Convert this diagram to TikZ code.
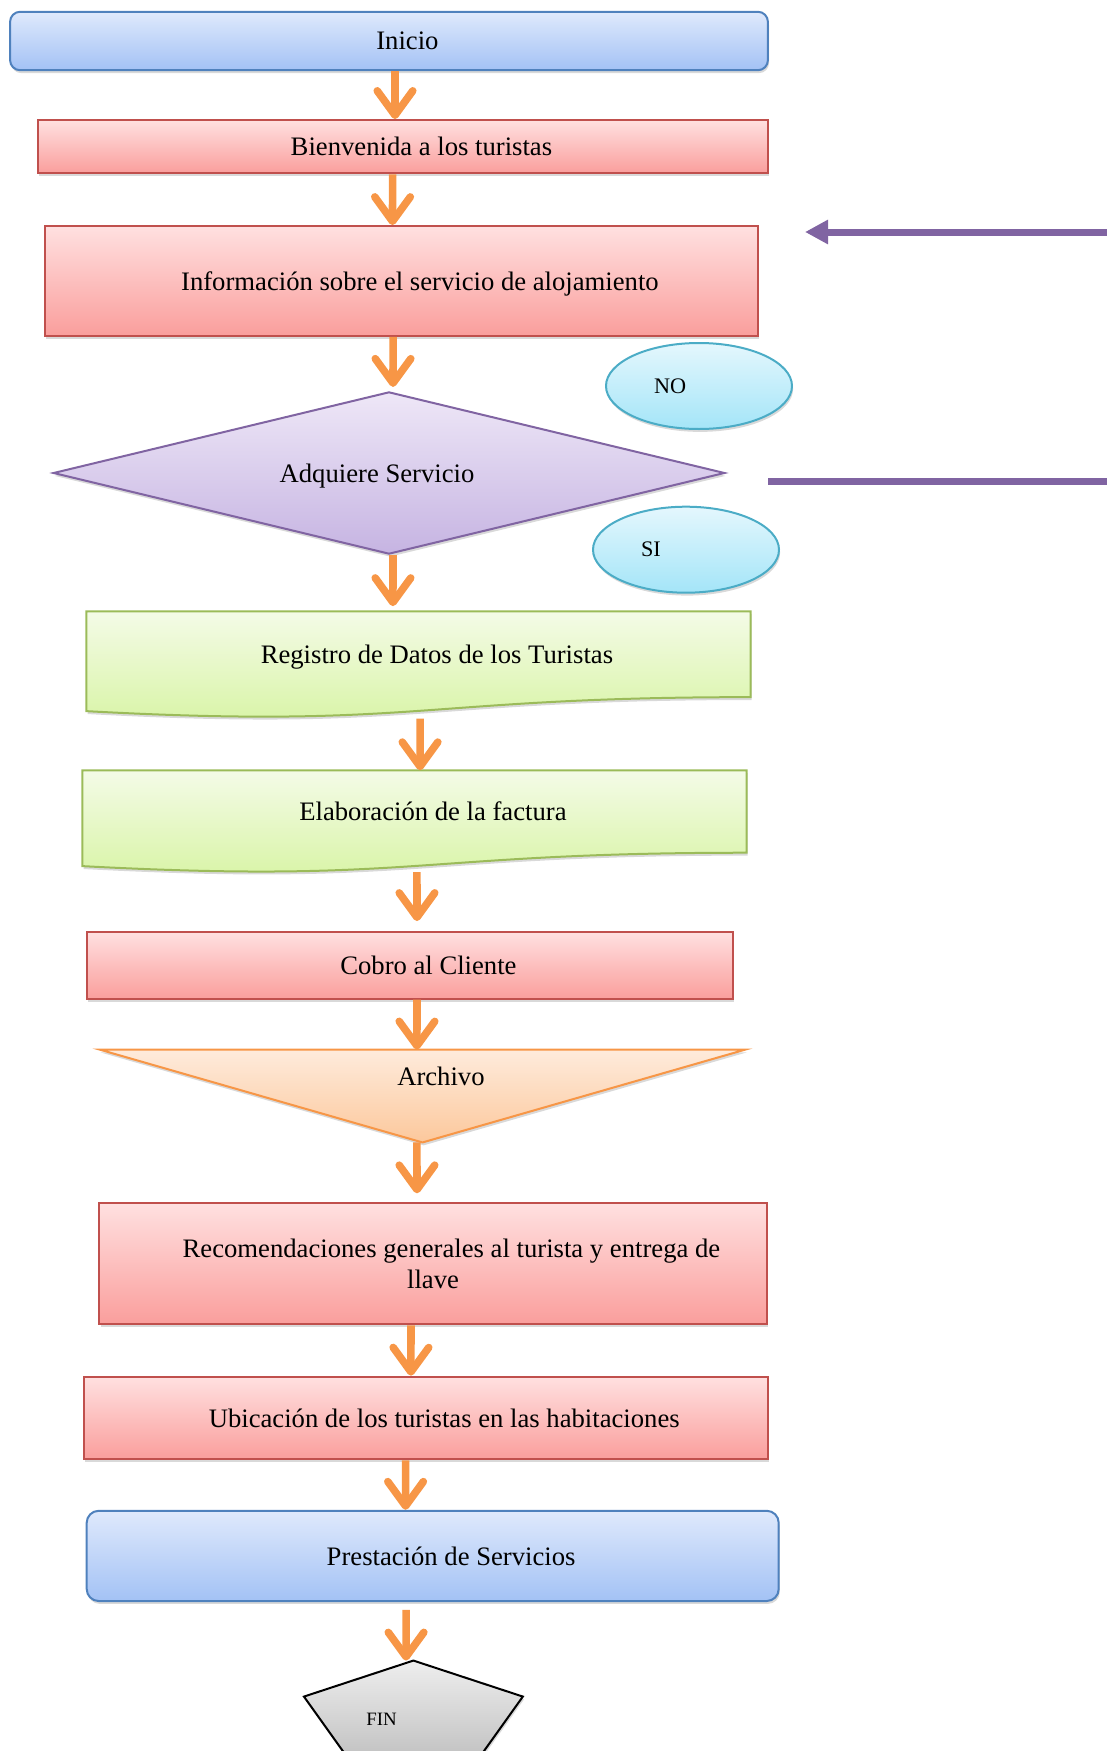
\documentclass[tikz,border=0pt]{standalone}
\usepackage{fontspec}
\setmainfont{Liberation Serif}
\usetikzlibrary{shapes.geometric, arrows.meta, calc, shadows, backgrounds}

\definecolor{azulborde}{HTML}{4F81BD}
\definecolor{azularriba}{HTML}{DFE9FC}
\definecolor{azulabajo}{HTML}{A3C2F5}
\definecolor{rojoborde}{HTML}{C0504D}
\definecolor{rojoarriba}{HTML}{FFE0E0}
\definecolor{rojoabajo}{HTML}{FA9E9C}
\definecolor{verdeborde}{HTML}{9BBB59}
\definecolor{verdearriba}{HTML}{F4FBE7}
\definecolor{verdeabajo}{HTML}{D7F4A3}
\definecolor{moradoborde}{HTML}{8064A2}
\definecolor{moradoarriba}{HTML}{EEE7F7}
\definecolor{moradoabajo}{HTML}{C6B4E2}
\definecolor{cianborde}{HTML}{4BACC6}
\definecolor{cianarriba}{HTML}{E4F7FD}
\definecolor{cianabajo}{HTML}{A4E5F8}
\definecolor{naranja}{HTML}{F79646}
\definecolor{naranjaarriba}{HTML}{FEEBDC}
\definecolor{naranjaabajo}{HTML}{FCC89C}
\definecolor{grisarriba}{HTML}{EEEEEE}
\definecolor{grisabajo}{HTML}{C3C3C3}

\begin{document}
\begin{tikzpicture}
   [x=0.45pt, y=-0.45pt,
    texto/.style={font=\fontsize{12}{14}\selectfont, inner sep=0pt, text depth=0pt},
    sangria/.style={execute at begin node={\hspace*{16.6pt}}},
    sombra/.style={drop shadow={shadow xshift=0.5pt, shadow yshift=-1.3pt, opacity=0.3}},
    inicio/.style={texto, sangria, sombra, rectangle, rounded corners=4.5pt, draw=azulborde, line width=0.9pt, top color=azularriba, bottom color=azulabajo},
    rojo/.style={texto, sombra, rectangle, draw=rojoborde, line width=0.9pt, top color=rojoarriba, bottom color=rojoabajo},
    proceso/.style={rojo, sangria},
    documento/.style={sombra, draw=verdeborde, line width=0.9pt, top color=verdearriba, bottom color=verdeabajo},
    decision/.style={texto, sombra, diamond, aspect=4, draw=moradoborde, line width=0.9pt, top color=moradoarriba, bottom color=moradoabajo},
    respuesta/.style={font=\fontsize{10}{12}\selectfont, sombra, ellipse, inner sep=0pt, minimum width=83.7pt, minimum height=38.7pt, draw=cianborde, line width=0.9pt, top color=cianarriba, bottom color=cianabajo},
    archivo/.style={sombra, draw=naranja, line width=0.9pt, top color=naranjaarriba, bottom color=naranjaabajo},
    finforma/.style={sombra, draw=black, line width=0.9pt, top color=grisarriba, bottom color=grisabajo},
    flecha/.style={color=naranja, line width=3.4pt, -{Straight Barb[length=11pt, width=16pt, round]}},
    lazo/.style={draw=moradoborde, line width=3.15pt, -{Triangle[length=10.4pt, width=10.4pt]}}]
   \useasboundingbox (0,0) rectangle (1106,1751);

   \node[inicio, minimum width=341pt, minimum height=26.3pt] (ini) at (389,41) {Inicio};
   \node[proceso, minimum width=328.4pt, minimum height=24pt] (bien) at (403,146.7) {Bienvenida a los turistas};
   \node[proceso, minimum width=321.1pt, minimum height=49.4pt] (info) at (401.5,281) {Información sobre el servicio de alojamiento};
   \node[respuesta] (no) at (699,386) {NO\hspace*{26pt}};
   \node[decision, minimum width=302.2pt, minimum height=73pt] (adq) at (389,473) {Adquiere Servicio\hspace*{10.8pt}};
   \node[respuesta] (si) at (686,549.7) {SI\hspace*{31.5pt}};
   \node[texto, sangria, minimum width=298.4pt, minimum height=38.25pt] (reg) at (418.5,654.2) {Registro de Datos de los Turistas};
   \node[texto, sangria, minimum width=298.4pt, minimum height=36.7pt] (elab) at (414.5,811.5) {Elaboración de la factura};
   \node[proceso, minimum width=290.6pt, minimum height=30pt] (cobro) at (410,965.4) {Cobro al Cliente};
   \node[inner sep=0pt, minimum width=290.25pt, minimum height=41.4pt,
         label={[texto, sangria, yshift=8.7pt]center:Archivo}] (arch) at (422.5,1096) {};
   \node[rojo, align=center, minimum width=300.2pt, minimum height=54.5pt] (recom) at (433,1263.8)
        {\hspace*{16.6pt}Recomendaciones generales al turista y entrega de\\llave};
   \node[proceso, minimum width=307.6pt, minimum height=37.2pt] (ubic) at (425.8,1418) {Ubicación de los turistas en las habitaciones};
   \node[inicio, rounded corners=5.4pt, minimum width=311.4pt, minimum height=40.6pt] (prest) at (432.7,1555.9) {Prestación de Servicios};
   \node[inner sep=0pt, minimum width=98.1pt, minimum height=42.3pt,
         label={[font=\fontsize{8.5}{10}\selectfont, xshift=-14.3pt, yshift=-4.95pt]center:FIN}] (fin) at (413.4,1708) {};

   % formas sin nodo propio
   \begin{scope}[on background layer]
     \path[documento] (reg.north west) -- (reg.north east) -- (reg.south east)
        .. controls (reg.south) and ($(reg.south)+(0,32)$) .. ($(reg.south west)+(0,14)$) -- cycle;
     \path[documento] (elab.north west) -- (elab.north east) -- (elab.south east)
        .. controls (elab.south) and ($(elab.south)+(0,31)$) .. ($(elab.south west)+(0,13.4)$) -- cycle;
     \path[archivo] (arch.north west) -- (arch.north east) -- (arch.south) -- cycle;
     \path[finforma] (fin.north) -- ($(fin.north east)+(0,36)$) -- ($(fin.south)+(67.4,0)$)
        -- ($(fin.south)+(-67.4,0)$) -- ($(fin.north west)+(0,36)$) -- cycle;
   \end{scope}

   \path[flecha]
    ([xshift=2.7pt]ini.south) edge ([xshift=-3.6pt]bien.north)
    ([xshift=-4.7pt]bien.south) edge ([xshift=-4.05pt]info.north)
    ([xshift=-3.8pt]info.south) edge [shorten >=1.8pt] ([xshift=1.8pt]adq.north)
    ([xshift=1.8pt]adq.south) edge [shorten >=2.3pt] ([xshift=-11.5pt]reg.north)
    ([xshift=0.7pt]reg.south) edge [shorten <=9.7pt] ([xshift=2.5pt]elab.north)
    ([xshift=1.1pt]elab.south) edge [shorten <=8.7pt, shorten >=4.5pt] ([xshift=3.15pt]cobro.north)
    ([xshift=3.15pt]cobro.south) edge ([xshift=-2.5pt]arch.north)
    ([xshift=-2.5pt]arch.south) edge [shorten >=4pt] ([xshift=-7.2pt]recom.north)
    ([xshift=-9.9pt]recom.south) edge ([xshift=-6.7pt]ubic.north)
    ([xshift=-9.1pt]ubic.south) edge ([xshift=-12.2pt]prest.north)
    ([xshift=-12pt]prest.south) edge [shorten <=3.5pt] ([xshift=-3.3pt]fin.north);

   % vuelta del NO
   \coordinate (nosal) at (768,481);
   \coordinate (noreg) at (805,232);
   \draw[lazo] (nosal) -- ++(352,0) |- (noreg);
\end{tikzpicture}
\end{document}
